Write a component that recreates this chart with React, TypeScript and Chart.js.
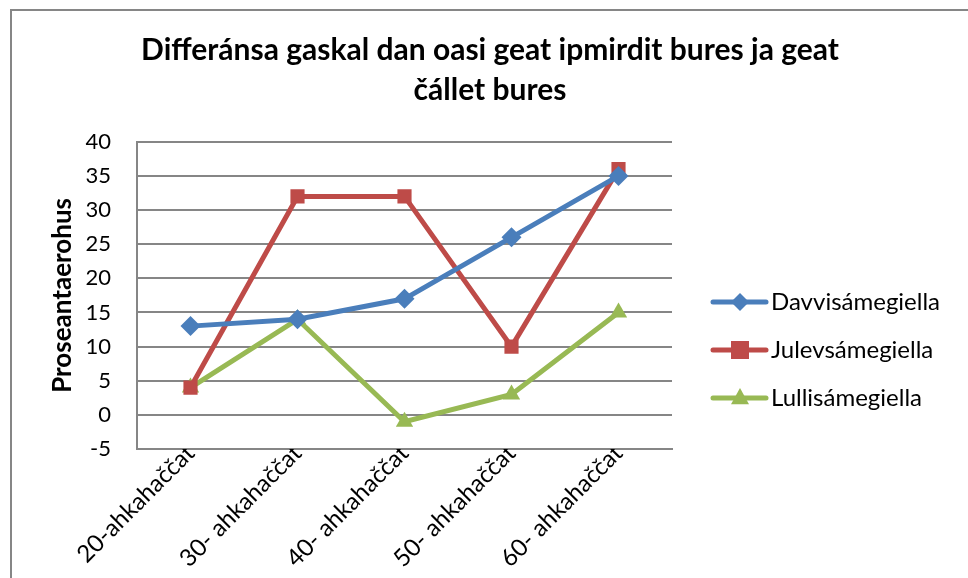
import React, { useEffect, useRef } from "react";
import { Chart, registerables } from "chart.js";

Chart.register(...registerables);

const categories = ["20-ahkahaččat", "30- ahkahaččat", "40- ahkahaččat", "50- ahkahaččat", "60- ahkahaččat"];
const davvi = [13, 14, 17, 26, 35];
const julev = [4, 32, 32, 10, 36];
const lulli = [4, 14, -1, 3, 15];
const seriesNames = ["Davvisámegiella", "Julevsámegiella", "Lullisámegiella"];
const titleLines = ["Differánsa gaskal dan oasi geat ipmirdit bures ja geat", "čállet bures"];
const yTitle = "Proseantaerohus";
const yMin = -5;
const yMax = 40;
const yStep = 5;

const FONT = "Lato, 'Open Sans', sans-serif";
const GRID = "#868686";

function drawMarker(ctx: CanvasRenderingContext2D, style: string, x: number, y: number, r: number, color: string) {
  ctx.save();
  ctx.fillStyle = color;
  ctx.beginPath();
  if (style === "rectRot") {
    ctx.moveTo(x, y - r);
    ctx.lineTo(x + r, y);
    ctx.lineTo(x, y + r);
    ctx.lineTo(x - r, y);
  } else if (style === "rect") {
    ctx.rect(x - r, y - r, 2 * r, 2 * r);
  } else {
    ctx.moveTo(x, y - r * 1.1);
    ctx.lineTo(x + r, y + r * 0.7);
    ctx.lineTo(x - r, y + r * 0.7);
  }
  ctx.closePath();
  ctx.fill();
  ctx.restore();
}

const framePlugin = {
  id: "frame",
  beforeDraw(chart: any) {
    const ctx = chart.ctx;
    ctx.save();
    ctx.fillStyle = "#ffffff";
    ctx.fillRect(0, 0, chart.width, chart.height);
    ctx.strokeStyle = GRID;
    ctx.lineWidth = 2;
    ctx.strokeRect(11, 10, 1200, 1200);
    ctx.restore();
  },
};

const titleCenterPlugin = {
  id: "titleCenter",
  afterLayout(chart: any) {
    if (chart.titleBlock) {
      chart.titleBlock.left = 12;
      chart.titleBlock.right = 968;
    }
  },
};

const legendPlugin = {
  id: "customLegend",
  afterDraw(chart: any) {
    const ctx = chart.ctx;
    const ys = [302, 350, 398];
    chart.data.datasets.forEach((ds: any, i: number) => {
      const y = ys[i];
      ctx.save();
      ctx.strokeStyle = ds.borderColor;
      ctx.lineWidth = 5;
      ctx.lineCap = "round";
      ctx.beginPath();
      ctx.moveTo(713, y);
      ctx.lineTo(766, y);
      ctx.stroke();
      ctx.restore();
      drawMarker(ctx, ds.pointStyle, 740, y, 9, ds.pointBackgroundColor);
      ctx.save();
      ctx.fillStyle = "#000";
      ctx.font = `24px ${FONT}`;
      ctx.textAlign = "left";
      ctx.textBaseline = "middle";
      ctx.fillText(ds.label, 771, y);
      ctx.restore();
    });
  },
};

export default function App() {
  const ref = useRef<HTMLCanvasElement | null>(null);
  useEffect(() => {
    if (!ref.current) return;
    const mk = (label: string, data: number[], color: string, style: string, r: number) => ({
      label,
      data,
      borderColor: color,
      backgroundColor: color,
      pointBackgroundColor: color,
      pointBorderColor: color,
      pointStyle: style,
      pointRadius: r,
      pointHoverRadius: r,
      pointBorderWidth: 0,
      borderWidth: 5,
      tension: 0,
    });
    const chart = new Chart(ref.current, {
      type: "line",
      data: {
        labels: categories,
        datasets: [
          mk(seriesNames[0], davvi, "#4A7EBB", "rectRot", 10),
          mk(seriesNames[1], julev, "#BE4B48", "rect", 10),
          mk(seriesNames[2], lulli, "#98B954", "triangle", 10),
        ],
      },
      options: {
        responsive: false,
        animation: false,
        layout: { padding: { left: 10, right: 296, top: 0, bottom: 0 } },
        plugins: {
          legend: { display: false },
          tooltip: { enabled: false },
          title: {
            display: true,
            text: titleLines,
            color: "#000",
            font: { family: FONT, size: 30, weight: "bold", lineHeight: 1.33 },
            padding: { top: 30, bottom: 32 },
          },
        },
        scales: {
          x: {
            offset: true,
            grid: { display: false, drawTicks: false },
            border: { display: true, color: GRID, width: 2 },
            ticks: {
              color: "#000",
              font: { family: FONT, size: 24 },
              maxRotation: 45,
              minRotation: 45,
              padding: -10,
              autoSkip: false,
            },
            afterFit(scale: any) {
              scale.height = 129;
            },
          },
          y: {
            min: yMin,
            max: yMax,
            grid: { color: GRID, lineWidth: 2, drawTicks: false },
            border: { display: true, color: GRID, width: 2 },
            ticks: {
              stepSize: yStep,
              color: "#000",
              font: { family: FONT, size: 22 },
              padding: 26,
            },
            title: {
              display: true,
              text: yTitle,
              color: "#000",
              font: { family: FONT, size: 26, weight: "bold" },
              padding: { top: 37, bottom: 0 },
            },
            afterFit(scale: any) {
              scale.width = 127;
            },
          },
        },
      },
      plugins: [framePlugin, titleCenterPlugin, legendPlugin],
    });
    return () => chart.destroy();
  }, []);
  return (
    <div style={{ position: "absolute", left: 0, top: 0, width: 968, height: 578 }}>
      <canvas ref={ref} width={968} height={578} style={{ display: "block" }} />
    </div>
  );
}
